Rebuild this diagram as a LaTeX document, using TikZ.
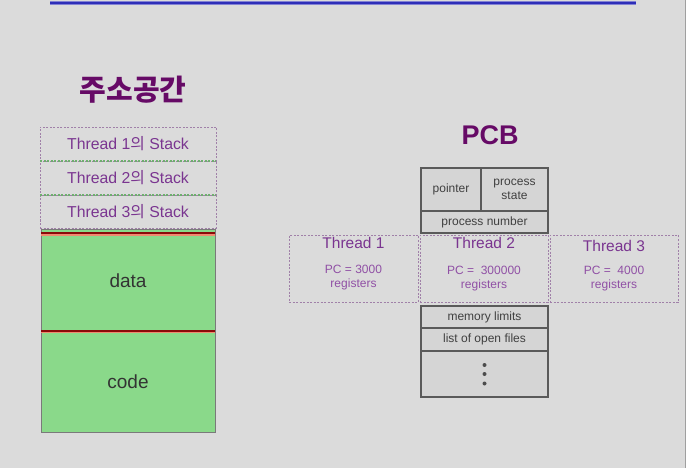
\documentclass[tikz,border=0pt]{standalone}
\usepackage{fontspec}
\setmainfont{Liberation Sans}
\newfontfamily\kr{Noto Sans CJK KR}
\definecolor{bg}{HTML}{DBDBDB}
\definecolor{titlepurple}{HTML}{660A66}
\definecolor{textpurple}{HTML}{7A3590}
\definecolor{pcpurple}{HTML}{9050A5}
\definecolor{dashpurple}{HTML}{A080A8}
\definecolor{segfill}{HTML}{8AD98A}
\definecolor{segdraw}{HTML}{7A7A7A}
\definecolor{cellfill}{HTML}{D5D5D5}
\definecolor{celldraw}{HTML}{5A5A5A}
\definecolor{barblue}{HTML}{2E2EB8}
\definecolor{darkred}{HTML}{8B0A0A}
\definecolor{salmon}{HTML}{F08A70}
\tikzset{
  box/.style={anchor=north west, inner sep=0pt, outer sep=0pt},
  stackbox/.style={box, draw=dashpurple, dash pattern=on 2pt off 1.5pt, line width=0.9pt,
    minimum width=176, minimum height=34, text=textpurple, font=\fontsize{15.8}{18}\selectfont},
  seg/.style={box, draw=segdraw, fill=segfill, line width=1pt, minimum width=174,
    minimum height=101, text=black!80, font=\fontsize{19}{22}\selectfont},
  cell/.style={box, draw=celldraw, fill=cellfill, line width=1.2pt, align=center,
    text=black!75, font=\fontsize{12}{14.5}\selectfont},
  threadbox/.style={box, draw=dashpurple, dash pattern=on 2pt off 1.5pt, line width=0.9pt,
    minimum height=67},
  threadtitle/.style={text=textpurple, font=\fontsize{15.5}{18}\selectfont, inner sep=0pt},
  threadinfo/.style={text=pcpurple, align=center, font=\fontsize{12}{14}\selectfont, inner sep=0pt},
  heading/.style={text=titlepurple, font=\bfseries\fontsize{27}{30}\selectfont, inner sep=0pt},
  redline/.style={draw=darkred, line width=2pt},
  redglow/.style={draw=salmon, line width=1.2pt},
  pcbdot/.style={fill=black!70, draw=none, circle, inner sep=0pt, minimum size=4pt},
}
\begin{document}
\begin{tikzpicture}[x=1pt, y=-1pt]
  % page
  \fill[bg] (0,0) rectangle (686,468);
  \useasboundingbox (0,0) rectangle (686,468);
  \draw[gray!75, line width=1pt] (685,0) -- (685,468);
  \coordinate (barL) at (50,3);
  \coordinate (barR) at (636,3);
  \draw[barblue!60, line width=4.5pt] (barL) -- (barR);
  \draw[barblue, line width=2.6pt] (barL) -- (barR);

  % address space
  \node[heading, font=\kr\bfseries\fontsize{29}{32}\selectfont] (asTitle) at (133,90) {주소공간};

  \node[stackbox] (st1) at (40,127) {Thread 1{\kr 의} Stack};
  \node[stackbox] (st2) at (40,161) {Thread 2{\kr 의} Stack};
  \node[stackbox, minimum height=33] (st3) at (40,195) {Thread 3{\kr 의} Stack};
  \draw[segfill!80!black, line width=1.2pt, dash pattern=on 2pt off 1.5pt] (st1.south west) -- (st1.south east);
  \draw[segfill!80!black, line width=1.2pt, dash pattern=on 2pt off 1.5pt] (st2.south west) -- (st2.south east);

  \node[seg] (data) at (41,230) {data};
  \node[seg] (code) at (41,331) {code};
  \draw[redglow] ([yshift=-5]data.north west) -- ([yshift=-5]data.north east);
  \draw[redline] ([yshift=-3]data.north west) -- ([yshift=-3]data.north east);
  \draw[redglow] ([yshift=-1.5]code.north west) -- ([yshift=-1.5]code.north east);
  \draw[redline] ([yshift=0.5]code.north west) -- ([yshift=0.5]code.north east);

  % PCB
  \node[heading] (pcbTitle) at (490,135) {PCB};

  \node[cell, minimum width=60, minimum height=43] (ptr) at (421,168) {pointer};
  \node[cell, minimum width=67, minimum height=43] (state) at (481,168) {process\\state};
  \node[cell, minimum width=127, minimum height=22] (pnum) at (421,211) {process number};

  \node[threadbox, minimum width=129] (t1) at (289,235) {};
  \node[threadbox, minimum width=128] (t2) at (420,235) {};
  \node[threadbox, minimum width=128] (t3) at (550,235) {};

  \node[threadtitle] (t1name) at ([yshift=-8]t1.north) {Thread 1};
  \node[threadinfo] (t1info) at ([yshift=-42.5]t1.north) {PC = 3000\\registers};
  \node[threadtitle] (t2name) at ([yshift=-8]t2.north) {Thread 2};
  \node[threadinfo] (t2info) at ([yshift=-43.5]t2.north) {PC =\ \ 300000\\registers};
  \node[threadtitle] (t3name) at ([yshift=-11]t3.north) {Thread 3};
  \node[threadinfo] (t3info) at ([yshift=-43.5]t3.north) {PC =\ \ 4000\\registers};

  \node[cell, minimum width=127, minimum height=22] (mem) at (421,306) {memory limits};
  \node[cell, minimum width=127, minimum height=23] (files) at (421,328) {list of open files};
  \node[cell, minimum width=127, minimum height=46] (more) at (421,351) {};
  \node[pcbdot] (dot1) at ([yshift=-14]more.north) {};
  \node[pcbdot] (dot2) at ([yshift=-23]more.north) {};
  \node[pcbdot] (dot3) at ([yshift=-32.5]more.north) {};
\end{tikzpicture}
\end{document}
